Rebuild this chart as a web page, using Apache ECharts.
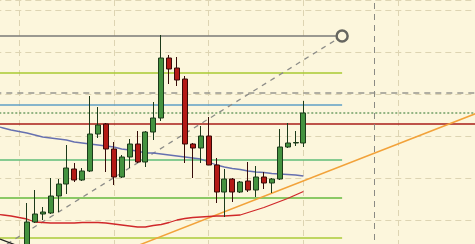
<!DOCTYPE html>
<html><head><meta charset="utf-8">
<script src="https://cdn.jsdelivr.net/npm/echarts@6/dist/echarts.min.js"></script>
<style>html,body{margin:0;padding:0;background:#fcf6dc}#c{width:475px;height:244px}</style>
</head><body><div id="c"></div>
<script>
// bar index of each candle (first candle of the visible set is index 1)
const candleIdx = [1,2,3,4,5,6,7,8,9,10,11,12,13,14,15,16,17,18,19,20,21,22,23,24,25,26,27,28,29,30,31,32,33,34,35,36];
const opens  = [12,40,48,49,66,78,93,82,91,128,138,113,85,105,118,100,130,144,204,194,183,118,114,126,97,70,83,70,81,72,85,79,83,115,119,119];
const closes = [40,48,50,66,78,94,82,91,128,137,113,85,105,118,100,130,144,204,193,182,118,114,126,97,70,83,70,80,72,85,79,83,115,119,119.5,149];
const lows   = [5,39,42,48,50,68,80,81,90,124,90,77,84,94,99,95,122,141,178,176,99,84,99,97,59,45,60,69,70,65,73,69,82,114,116,115];
const highs  = [59,72,55,84,83,117,99,94,166,155,139,120,107,123,131,131,160,227,207,205,186,119,136,145,104,93,84,81,100,96,90,84,133,139,131,161];
// moving averages, index -3 .. 36
const maBlue = [136,134,132,130.5,129,127,125,124,123,122,120,119,118,117,116,115,113,112,111,109,109,108,107,106,105,104,103,100,97,95,93.5,92.5,91,90,89.5,88.5,88,87.5,87,86];
const maRed  = [48,47,46,44.5,43,40,39.5,39,39,39,39,39.5,39.5,39.5,39,38,37,36,35,35,36.5,37.5,39.5,42,43.5,44.5,45,45.5,46,46,46.5,47,49.5,52,54.5,57.5,60.5,63.5,67,70.5];
const maBlack = [[-3,25],[-2.4,23],[0,15.7]];
// horizontal levels
const levelTop = 226, levelYG1 = 189, levelDash = 169, levelBlue = 157, levelDot = 149, levelRed = 138, levelG1 = 102, levelG2 = 64, levelYG2 = 24;
const levelEnd = 40.9;
const diagLine = [[-1.52,18],[40.9,226]];
const trendLine = [[14.9,16],[58,149]];
const vMarkerIdx = 45;

const firstIdx = -3, lastIdx = 58;
const categories = [];
for (let i = firstIdx; i <= lastIdx; i++) categories.push(String(i));
const candleData = categories.map(() => '-');
candleIdx.forEach((k, j) => { candleData[k - firstIdx] = [opens[j], closes[j], lows[j], highs[j]]; });
const blueData = maBlue.map((v, j) => [j + firstIdx, v]);
const redData = maRed.map((v, j) => [j + firstIdx, v]);

function hline(v, x0, x1, color, width, type) {
  return { type: 'line', xAxisIndex: 1, yAxisIndex: 0, data: [[x0, v], [x1, v]], showSymbol: false, silent: true,
    lineStyle: { color: color, width: width, type: type || 'solid' }, z: 3 };
}
const step = 7.9;
const gridLeft = 19 + firstIdx * step;
const gridWidth = (lastIdx - firstIdx) * step;

const chart = echarts.init(document.getElementById('c'), null, { renderer: 'canvas' });
chart.setOption({
  animation: false,
  backgroundColor: '#fcf6dc',
  grid: { left: gridLeft, width: gridWidth, top: 0, height: 262, containLabel: false, outerBoundsMode: 'none' },
  xAxis: [
    { type: 'category', data: categories, boundaryGap: false,
      axisLine: { show: false }, axisTick: { show: false }, axisLabel: { show: false },
      splitLine: { show: true, interval: function (idx) { return (idx - 3) % 12 === 0 && idx >= 3; },
        lineStyle: { color: '#ddd4b2', type: [6, 4], width: 1 } } },
    { type: 'value', min: firstIdx, max: lastIdx, show: false, splitLine: { show: false } }
  ],
  yAxis: [{ type: 'value', min: 0, max: 262, interval: 42,
    axisLine: { show: false }, axisTick: { show: false }, axisLabel: { show: false },
    splitLine: { show: true, lineStyle: { color: '#ddd4b2', type: [6, 4], width: 1 } } }],
  series: [
    hline(levelTop, firstIdx, levelEnd - 0.8, '#7a7a78', 1.5),
    hline(levelYG1, firstIdx, levelEnd, '#a9ca32', 1.4),
    hline(levelDash, firstIdx, lastIdx, '#96968e', 1.5, [6, 5]),
    hline(levelBlue, firstIdx, levelEnd, '#5f9fc6', 1.4),
    hline(levelDot, firstIdx, lastIdx, '#2a722a', 1, [2, 2]),
    hline(levelRed, firstIdx, lastIdx, '#a81c18', 1.5),
    hline(levelG1, firstIdx, levelEnd, '#5fbd78', 1.4),
    hline(levelG2, firstIdx, levelEnd, '#66ba3e', 1.4),
    hline(levelYG2, firstIdx, levelEnd, '#abcb38', 1.4),
    { type: 'line', xAxisIndex: 1, data: [[vMarkerIdx, 0], [vMarkerIdx, 262]], showSymbol: false, silent: true,
      lineStyle: { color: '#8a8a84', width: 1, type: [6, 5] }, z: 3 },
    { type: 'line', xAxisIndex: 1, data: diagLine, showSymbol: false, silent: true,
      lineStyle: { color: '#8c8c88', width: 1.3, type: [5, 5] }, z: 3 },
    { type: 'line', xAxisIndex: 1, data: [diagLine[1]], symbol: 'circle', symbolSize: 11, silent: true,
      itemStyle: { color: '#fcf6dc', borderColor: '#666660', borderWidth: 2.5 }, z: 6 },
    { type: 'line', xAxisIndex: 1, data: trendLine, showSymbol: false, silent: true,
      lineStyle: { color: '#f2a23a', width: 1.5 }, z: 4 },
    { type: 'line', xAxisIndex: 1, data: blueData, showSymbol: false, silent: true,
      lineStyle: { color: '#6670b0', width: 1.3 }, z: 4 },
    { type: 'line', xAxisIndex: 1, data: redData, showSymbol: false, silent: true,
      lineStyle: { color: '#d0282a', width: 1.3 }, z: 4 },
    { type: 'line', xAxisIndex: 1, data: maBlack, showSymbol: false, silent: true,
      lineStyle: { color: '#222', width: 1.3 }, z: 4 },
    { type: 'candlestick', xAxisIndex: 0, yAxisIndex: 0, data: candleData, barWidth: 5.5, z: 5,
      itemStyle: { color: '#44923f', color0: '#b41a16', borderColor: '#1c3a1a', borderColor0: '#360b09', borderWidth: 1 } }
  ]
});
</script></body></html>
